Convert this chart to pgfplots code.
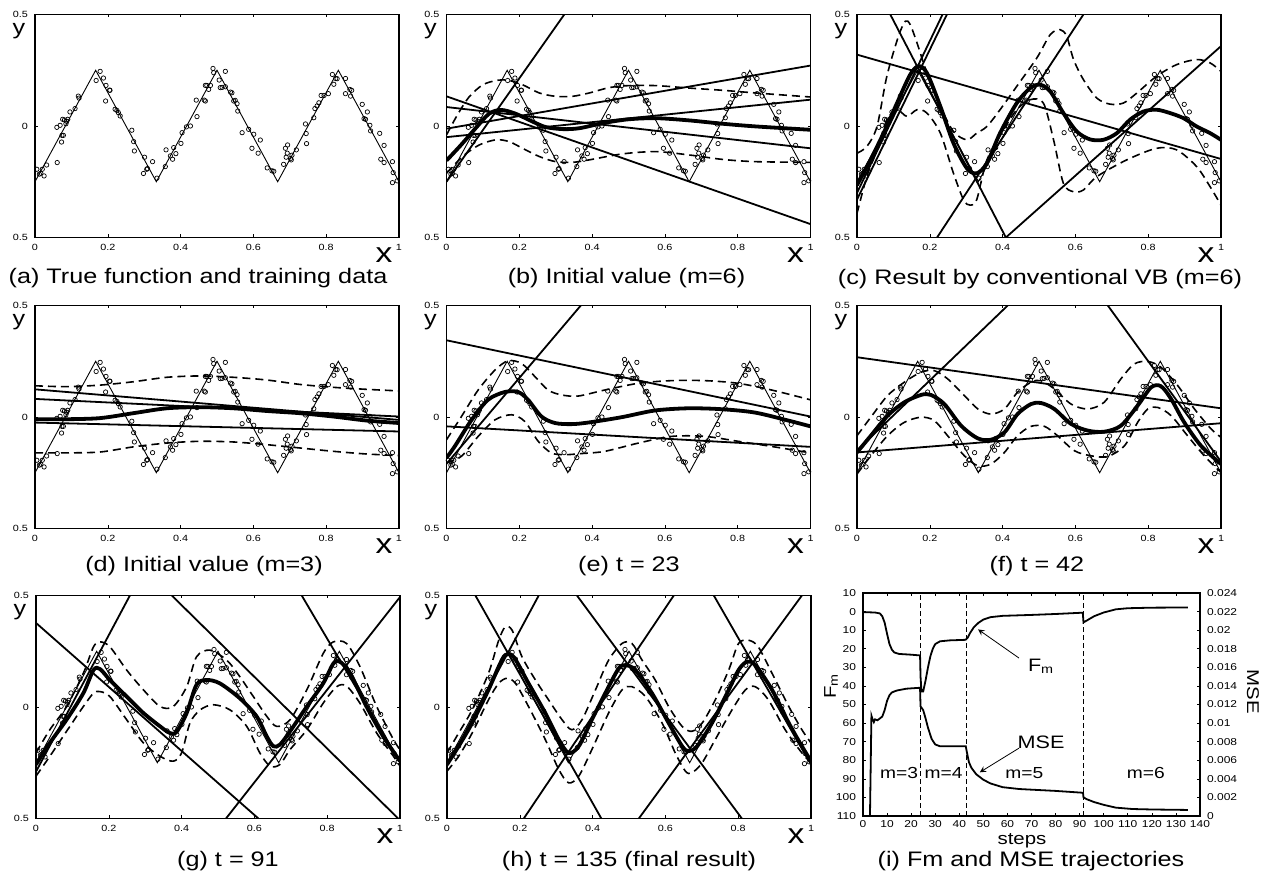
\documentclass[border=0pt]{standalone}
\usepackage{fontspec}
\setmainfont{Liberation Sans}[FakeStretch=1.2]
\usepackage{pgfplots}
\usepackage{pgfplotstable}
\pgfplotsset{compat=1.18}

% training data (same in every panel)
\pgfplotstableread{
x y
0.005 -0.194
0.012 -0.216
0.016 -0.212
0.020 -0.194
0.025 -0.224
0.032 -0.175
0.060 -0.006
0.061 -0.164
0.069 0.003
0.073 -0.072
0.074 -0.042
0.078 -0.042
0.076 0.030
0.081 0.027
0.085 0.010
0.087 0.021
0.090 0.030
0.096 0.063
0.110 0.078
0.119 0.134
0.121 0.125
0.168 0.204
0.179 0.245
0.188 0.215
0.195 0.182
0.194 0.112
0.205 0.161
0.206 0.160
0.220 0.075
0.225 0.070
0.229 0.060
0.234 0.045
0.266 -0.019
0.271 -0.070
0.273 -0.112
0.298 -0.213
0.301 -0.140
0.307 -0.194
0.309 -0.191
0.323 -0.160
0.335 -0.234
0.358 -0.182
0.360 -0.107
0.372 -0.134
0.378 -0.149
0.381 -0.097
0.387 -0.124
0.401 -0.078
0.404 -0.030
0.416 -0.004
0.427 0.000
0.443 0.116
0.445 0.042
0.465 0.116
0.468 0.112
0.468 0.182
0.472 0.182
0.477 0.164
0.482 0.182
0.489 0.258
0.491 0.239
0.506 0.206
0.509 0.172
0.514 0.173
0.523 0.176
0.523 0.245
0.537 0.152
0.541 0.149
0.546 0.112
0.550 0.115
0.555 0.100
0.557 0.067
0.569 -0.030
0.587 -0.015
0.596 -0.100
0.601 -0.037
0.613 -0.122
0.619 -0.063
0.638 -0.188
0.651 -0.201
0.656 -0.203
0.683 -0.172
0.688 -0.100
0.690 -0.140
0.693 -0.122
0.694 -0.085
0.702 -0.146
0.704 -0.152
0.706 -0.131
0.718 -0.107
0.743 0.009
0.745 -0.034
0.746 -0.079
0.766 0.037
0.769 0.078
0.775 0.090
0.780 0.104
0.786 0.137
0.794 0.137
0.806 0.145
0.817 0.231
0.821 0.187
0.826 0.213
0.830 0.212
0.853 0.213
0.853 0.145
0.865 0.164
0.867 0.134
0.870 0.160
0.899 0.097
0.904 0.033
0.908 0.030
0.913 0.063
0.920 0.003
0.922 -0.022
0.947 -0.033
0.959 -0.087
0.950 -0.149
0.959 -0.164
0.982 -0.160
0.982 -0.254
0.984 -0.209
0.995 -0.246
}\pts

\pgfplotsset{
  panel/.style={
    scale only axis, width=182pt, height=111.5pt, anchor=south west,
    xmin=0, xmax=1, ymin=-0.5, ymax=0.5,
    xtick={0,0.2,0.4,0.6,0.8,1}, xticklabels={0,0.2,0.4,0.6,0.8,1},
    ytick={-0.5,0,0.5}, yticklabels={0.5,0,0.5},
    tick align=inside, major tick length=1.5pt,
    tick style={black, line width=0.3pt},
    axis line style={line width=0.8pt},
    tick label style={font=\fontsize{4.5}{4.5}\selectfont},
    clip mode=individual,
  },
  tri/.style={black, line width=0.45pt},
  lin/.style={black, line width=0.9pt},
  mean/.style={black, line width=1.9pt, smooth},
  band/.style={black, line width=0.8pt, dash pattern=on 4pt off 2.5pt, smooth},
  dat/.style={only marks, mark=o, mark size=1.1pt, mark options={line width=0.35pt, black}},
}
\newcommand{\base}{%
  \addplot[tri] coordinates {(0,-0.25)(0.1667,0.25)(0.3333,-0.25)(0.5,0.25)(0.6667,-0.25)(0.8333,0.25)(1,-0.25)};
  \addplot[dat] table {\pts};
  \node[font=\fontsize{10.5}{10.5}\selectfont, inner sep=0pt, xshift=-8pt, yshift=-8.5pt] at (rel axis cs:0,1) {y};
  \node[font=\fontsize{14}{14}\selectfont, inner sep=0pt, xshift=-7.5pt, yshift=-9pt] at (rel axis cs:1,0) {x};
}

\begin{document}
\begin{tikzpicture}
\path[use as bounding box] (0,0) rectangle (633pt,438.5pt);

% (a)
\begin{axis}[panel, at={(17.5pt,319.75pt)}]
\base
\end{axis}

% (b)
\begin{axis}[panel, at={(223.25pt,319.75pt)}]
\base
\addplot[lin] coordinates {(0,0.133)(1,-0.44)};
\addplot[lin] coordinates {(0,0.085)(1,-0.1)};
\addplot[lin] coordinates {(0,-0.012)(1,0.271)};
\addplot[lin] coordinates {(0,-0.05)(1,0.118)};
\addplot[lin] coordinates {(0,-0.25)(0.3236,0.5)};
\addplot[band] coordinates {(0,-0.04)(0.03,0.05)(0.062,0.13)(0.1,0.185)(0.14,0.205)(0.17,0.205)(0.209,0.185)(0.255,0.148)(0.3,0.133)(0.346,0.133)(0.392,0.148)(0.447,0.172)(0.5,0.181)(0.576,0.181)(0.667,0.17)(0.759,0.16)(0.85,0.148)(1,0.13)};
\addplot[band] coordinates {(0,-0.212)(0.044,-0.137)(0.09,-0.085)(0.136,-0.062)(0.172,-0.07)(0.209,-0.1)(0.255,-0.137)(0.3,-0.16)(0.346,-0.163)(0.392,-0.152)(0.484,-0.125)(0.576,-0.115)(0.667,-0.13)(0.759,-0.15)(0.85,-0.16)(1,-0.163)};
\addplot[mean] coordinates {(0,-0.155)(0.04,-0.085)(0.08,-0.01)(0.117,0.055)(0.15,0.072)(0.19,0.055)(0.236,0.02)(0.273,-0.005)(0.32,-0.014)(0.365,-0.01)(0.43,0.013)(0.5,0.03)(0.576,0.035)(0.667,0.025)(0.759,0.01)(0.85,-0.002)(1,-0.017)};
\end{axis}

% (c)
\begin{axis}[panel, at={(428.5pt,319.75pt)}]
\base
\addplot[lin] coordinates {(0,0.32)(1,-0.148)};
\addplot[lin] coordinates {(0.0915,0.5)(0.409,-0.5)};
\addplot[lin] coordinates {(0.22,-0.5)(0.622,0.5)};
\addplot[lin] coordinates {(0.409,-0.5)(1,0.358)};
\addplot[lin] coordinates {(0,-0.30)(0.235,0.5)};
\addplot[lin] coordinates {(0,-0.33)(0.247,0.5)};
\addplot[band] coordinates {(0,-0.122)(0.027,-0.092)(0.055,-0.002)(0.082,0.223)(0.114,0.403)(0.133,0.47)(0.146,0.455)(0.165,0.372)(0.192,0.238)(0.229,0.088)(0.265,-0.025)(0.302,-0.062)(0.329,-0.032)(0.357,-0.002)(0.393,0.073)(0.439,0.178)(0.494,0.305)(0.531,0.41)(0.558,0.432)(0.576,0.403)(0.595,0.298)(0.622,0.208)(0.659,0.125)(0.695,0.098)(0.732,0.103)(0.769,0.148)(0.823,0.223)(0.878,0.275)(0.933,0.298)(0.97,0.283)(1,0.245)};
\addplot[band] coordinates {(0,-0.392)(0.027,-0.227)(0.055,-0.107)(0.082,0.028)(0.11,0.073)(0.137,0.043)(0.165,0.073)(0.192,0.058)(0.229,-0.032)(0.265,-0.212)(0.293,-0.332)(0.311,-0.355)(0.329,-0.33)(0.357,-0.152)(0.403,-0.017)(0.439,0.073)(0.476,0.118)(0.512,0.103)(0.54,-0.062)(0.567,-0.257)(0.595,-0.295)(0.622,-0.287)(0.659,-0.227)(0.741,-0.152)(0.823,-0.1)(0.878,-0.107)(0.933,-0.182)(0.97,-0.272)(1,-0.355)};
\addplot[mean] coordinates {(0,-0.265)(0.037,-0.152)(0.073,-0.032)(0.11,0.103)(0.146,0.23)(0.169,0.268)(0.192,0.238)(0.229,0.088)(0.265,-0.077)(0.302,-0.19)(0.329,-0.212)(0.357,-0.167)(0.393,-0.032)(0.439,0.103)(0.476,0.17)(0.503,0.185)(0.531,0.155)(0.567,0.058)(0.604,-0.025)(0.64,-0.06)(0.677,-0.062)(0.714,-0.032)(0.75,0.028)(0.787,0.065)(0.823,0.073)(0.86,0.058)(0.897,0.035)(0.933,-0.002)(0.97,-0.032)(1,-0.062)};
\end{axis}

% (d)
\begin{axis}[panel, at={(17.5pt,174.25pt)}]
\base
\addplot[lin] coordinates {(0,0.124)(1,-0.013)};
\addplot[lin] coordinates {(0,0.081)(1,0.002)};
\addplot[lin] coordinates {(0,-0.025)(1,-0.065)};
\addplot[band] coordinates {(0,0.14)(0.087,0.136)(0.179,0.143)(0.27,0.158)(0.362,0.178)(0.453,0.184)(0.545,0.178)(0.636,0.166)(0.728,0.146)(0.82,0.133)(0.911,0.124)(1,0.117)};
\addplot[band] coordinates {(0,-0.161)(0.087,-0.161)(0.179,-0.157)(0.27,-0.134)(0.362,-0.117)(0.453,-0.109)(0.545,-0.112)(0.636,-0.124)(0.728,-0.139)(0.82,-0.154)(0.911,-0.166)(1,-0.173)};
\addplot[mean] coordinates {(0,-0.01)(0.087,-0.01)(0.179,-0.005)(0.27,0.017)(0.362,0.039)(0.453,0.044)(0.545,0.039)(0.636,0.027)(0.728,0.017)(0.82,0.002)(0.911,-0.016)(1,-0.027)};
\end{axis}

% (e)
\begin{axis}[panel, at={(223.25pt,174.25pt)}]
\base
\addplot[lin] coordinates {(0,-0.21)(0.369,0.5)};
\addplot[lin] coordinates {(0,0.344)(1,0.002)};
\addplot[lin] coordinates {(0,-0.042)(1,-0.134)};
\addplot[band] coordinates {(0,-0.102)(0.041,0.002)(0.087,0.121)(0.133,0.21)(0.169,0.252)(0.206,0.24)(0.243,0.181)(0.279,0.121)(0.316,0.099)(0.362,0.094)(0.435,0.121)(0.527,0.151)(0.618,0.163)(0.71,0.163)(0.801,0.151)(0.893,0.121)(1,0.077)};
\addplot[band] coordinates {(0,-0.206)(0.041,-0.176)(0.087,-0.087)(0.133,-0.013)(0.179,0.01)(0.215,-0.02)(0.252,-0.109)(0.288,-0.161)(0.325,-0.169)(0.371,-0.164)(0.435,-0.154)(0.527,-0.117)(0.618,-0.087)(0.71,-0.087)(0.801,-0.109)(0.893,-0.132)(1,-0.161)};
\addplot[mean] coordinates {(0,-0.183)(0.023,-0.131)(0.069,-0.013)(0.114,0.077)(0.16,0.112)(0.197,0.112)(0.224,0.077)(0.261,0.002)(0.298,-0.027)(0.343,-0.032)(0.389,-0.025)(0.481,-0.001)(0.572,0.029)(0.664,0.039)(0.755,0.035)(0.847,0.02)(0.939,-0.016)(1,-0.042)};
\end{axis}

% (f)
\begin{axis}[panel, at={(428.5pt,174.25pt)}]
\base
\addplot[lin] coordinates {(0,-0.15)(0.414,0.5)};
\addplot[lin] coordinates {(0.689,0.5)(1,-0.2)};
\addplot[lin] coordinates {(0,0.268)(1,0.039)};
\addplot[lin] coordinates {(0,-0.159)(1,-0.028)};
\addplot[band] coordinates {(0,-0.084)(0.038,-0.001)(0.084,0.096)(0.13,0.156)(0.176,0.201)(0.212,0.208)(0.249,0.171)(0.295,0.096)(0.332,0.036)(0.368,0.013)(0.405,0.036)(0.441,0.111)(0.478,0.156)(0.505,0.163)(0.542,0.126)(0.588,0.058)(0.634,0.036)(0.679,0.066)(0.725,0.171)(0.762,0.238)(0.799,0.249)(0.835,0.223)(0.881,0.141)(0.927,0.036)(0.973,-0.054)(1,-0.091)};
\addplot[band] coordinates {(0,-0.256)(0.038,-0.174)(0.084,-0.084)(0.13,-0.024)(0.176,-0.001)(0.212,-0.016)(0.249,-0.084)(0.295,-0.174)(0.332,-0.219)(0.368,-0.211)(0.405,-0.159)(0.441,-0.084)(0.478,-0.042)(0.515,-0.042)(0.551,-0.084)(0.597,-0.151)(0.643,-0.174)(0.689,-0.177)(0.735,-0.129)(0.771,-0.024)(0.799,0.036)(0.826,0.043)(0.863,0.006)(0.908,-0.084)(0.954,-0.174)(1,-0.249)};
\addplot[mean] coordinates {(0,-0.159)(0.038,-0.084)(0.084,0.006)(0.13,0.066)(0.176,0.099)(0.203,0.099)(0.24,0.058)(0.286,-0.039)(0.332,-0.096)(0.368,-0.102)(0.405,-0.069)(0.441,0.013)(0.478,0.058)(0.505,0.063)(0.542,0.036)(0.588,-0.031)(0.634,-0.061)(0.679,-0.066)(0.725,-0.039)(0.771,0.051)(0.808,0.133)(0.835,0.138)(0.863,0.081)(0.899,-0.024)(0.945,-0.129)(1,-0.211)};
\end{axis}

% (g)
\begin{axis}[panel, at={(18pt,29.25pt)}]
\base
\addplot[lin] coordinates {(0,0.377)(0.611,-0.5)};
\addplot[lin] coordinates {(0.373,0.5)(0.995,-0.5)};
\addplot[lin] coordinates {(0,-0.29)(0.258,0.5)};
\addplot[lin] coordinates {(0.522,-0.5)(1,0.493)};
\addplot[lin] coordinates {(0.73,0.5)(1,-0.247)};
\addplot[band] coordinates {(0,-0.206)(0.038,-0.102)(0.084,0.002)(0.13,0.151)(0.158,0.27)(0.176,0.292)(0.203,0.27)(0.249,0.166)(0.295,0.077)(0.341,0.002)(0.377,0.002)(0.414,0.091)(0.441,0.225)(0.478,0.255)(0.524,0.21)(0.56,0.136)(0.597,0.047)(0.634,-0.042)(0.661,-0.087)(0.698,-0.057)(0.744,0.077)(0.789,0.24)(0.817,0.292)(0.853,0.285)(0.89,0.181)(0.936,0.002)(0.982,-0.146)(1,-0.191)};
\addplot[band] coordinates {(0,-0.31)(0.038,-0.221)(0.084,-0.109)(0.13,0.002)(0.158,0.062)(0.176,0.069)(0.203,0.047)(0.249,-0.057)(0.295,-0.161)(0.341,-0.221)(0.377,-0.243)(0.4,-0.206)(0.423,-0.072)(0.451,-0.013)(0.487,0.01)(0.533,-0.013)(0.579,-0.087)(0.615,-0.206)(0.643,-0.265)(0.67,-0.258)(0.698,-0.191)(0.744,-0.102)(0.789,0.017)(0.826,0.091)(0.853,0.094)(0.89,0.017)(0.936,-0.117)(0.982,-0.221)(1,-0.265)};
\addplot[mean] coordinates {(0,-0.258)(0.038,-0.161)(0.084,-0.057)(0.13,0.062)(0.158,0.166)(0.176,0.17)(0.203,0.121)(0.249,0.047)(0.295,-0.027)(0.341,-0.087)(0.368,-0.117)(0.386,-0.112)(0.414,-0.027)(0.441,0.1)(0.469,0.121)(0.505,0.106)(0.56,0.039)(0.606,-0.042)(0.634,-0.132)(0.652,-0.176)(0.67,-0.169)(0.698,-0.109)(0.744,0.002)(0.789,0.106)(0.817,0.195)(0.835,0.203)(0.863,0.151)(0.908,0.002)(0.954,-0.132)(1,-0.243)};
\end{axis}

% (h)
\begin{axis}[panel, at={(223.5pt,29.25pt)}]
\base
\addplot[lin] coordinates {(0.078,0.5)(0.424,-0.5)};
\addplot[lin] coordinates {(0,-0.265)(0.252,0.5)};
\addplot[lin] coordinates {(0.357,0.5)(0.81,-0.5)};
\addplot[lin] coordinates {(0.211,-0.5)(0.623,0.5)};
\addplot[lin] coordinates {(0.733,0.5)(1,-0.258)};
\addplot[lin] coordinates {(0.527,-0.5)(0.975,0.5)};
\addplot[band] coordinates {(0,-0.206)(0.032,-0.117)(0.069,-0.013)(0.114,0.151)(0.142,0.299)(0.16,0.359)(0.179,0.344)(0.206,0.225)(0.243,0.121)(0.279,0.032)(0.316,-0.057)(0.343,-0.102)(0.371,-0.057)(0.408,0.077)(0.444,0.21)(0.481,0.285)(0.508,0.285)(0.536,0.21)(0.572,0.121)(0.609,0.002)(0.646,-0.087)(0.673,-0.109)(0.701,-0.072)(0.737,0.032)(0.774,0.166)(0.801,0.285)(0.829,0.299)(0.855,0.27)(0.893,0.151)(0.939,0.002)(0.975,-0.102)(1,-0.161)};
\addplot[band] coordinates {(0,-0.288)(0.032,-0.221)(0.069,-0.117)(0.114,0.032)(0.142,0.106)(0.165,0.129)(0.188,0.106)(0.224,0.002)(0.27,-0.146)(0.307,-0.28)(0.334,-0.34)(0.362,-0.31)(0.398,-0.191)(0.444,-0.027)(0.481,0.077)(0.508,0.091)(0.545,0.047)(0.591,-0.072)(0.627,-0.206)(0.655,-0.288)(0.673,-0.295)(0.701,-0.25)(0.737,-0.146)(0.783,-0.013)(0.82,0.077)(0.847,0.091)(0.883,0.032)(0.929,-0.102)(0.975,-0.206)(1,-0.25)};
\addplot[mean] coordinates {(0,-0.258)(0.032,-0.176)(0.069,-0.072)(0.114,0.077)(0.142,0.181)(0.16,0.233)(0.183,0.225)(0.224,0.106)(0.27,-0.027)(0.307,-0.146)(0.334,-0.206)(0.362,-0.176)(0.398,-0.057)(0.444,0.091)(0.472,0.173)(0.49,0.188)(0.517,0.166)(0.563,0.062)(0.609,-0.072)(0.646,-0.176)(0.664,-0.198)(0.687,-0.176)(0.728,-0.072)(0.774,0.077)(0.801,0.166)(0.824,0.203)(0.847,0.188)(0.893,0.077)(0.939,-0.072)(0.975,-0.176)(1,-0.243)};
\end{axis}

% (i) left axis: F_m
\begin{axis}[
  scale only axis, width=168.5pt, height=111.5pt, anchor=south west,
  at={(431.5pt,30.5pt)},
  xmin=0, xmax=140, ymin=-110, ymax=10,
  xtick={0,10,...,140},
  ytick={-110,-100,...,10},
  yticklabels={110,100,90,80,70,60,50,40,30,20,10,0,10},
  ytick pos=left,
  tick align=inside, major tick length=1.5pt,
  tick style={black, line width=0.3pt},
  axis line style={line width=0.8pt},
  tick label style={font=\fontsize{5}{5}\selectfont},
  xticklabel style={yshift=1.5pt},
  /pgf/number format/assume math mode=true,
  clip mode=individual,
]
\addplot[black, line width=0.9pt] coordinates {(0,-0.3)(5,-0.5)(7,-1)(8,-2.5)(9,-6)(10,-12)(11,-17.5)(12,-20.5)(13,-22)(15,-22.8)(20,-23.2)(23.7,-23.6)(23.9,-35)(24.3,-43)(25,-43)(26,-37)(27,-30)(28,-24)(29,-20)(30,-17.5)(32,-16)(36,-15.5)(42.6,-15.2)(43.5,-14)(44.5,-11.5)(46,-8.5)(48,-6)(50,-4.3)(53,-3)(58,-2.3)(70,-1.8)(80,-1.3)(91.3,-0.6)(91.6,-5.8)(93,-4.8)(96,-2.5)(100,-0.5)(105,1.2)(110,1.8)(120,2.1)(135,2.2)};
\addplot[black, line width=0.5pt, dash pattern=on 2.5pt off 1.5pt] coordinates {(23.8,-110)(23.8,10)};
\addplot[black, line width=0.5pt, dash pattern=on 2.5pt off 1.5pt] coordinates {(42.8,-110)(42.8,10)};
\addplot[black, line width=0.5pt, dash pattern=on 2.5pt off 1.5pt] coordinates {(91.5,-110)(91.5,10)};
\draw[->, >=stealth, line width=0.4pt] (axis cs:64.8,-25) -- (axis cs:47.8,-9.6);
\node[font=\fontsize{9}{9}\selectfont] at (axis cs:74,-29.5) {F\textsubscript{m}};
\end{axis}

% (i) right axis: MSE
\begin{axis}[
  scale only axis, width=168.5pt, height=111.5pt, anchor=south west,
  at={(431.5pt,30.5pt)},
  xmin=0, xmax=140, ymin=0, ymax=0.024,
  axis x line=none, axis y line*=right,
  ytick={0,0.002,...,0.024}, scaled y ticks=false,
  yticklabels={0,0.002,0.004,0.006,0.008,0.01,0.012,0.014,0.016,0.018,0.02,0.022,0.024},
  tick align=inside, major tick length=1.5pt,
  tick style={black, line width=0.3pt},
  axis line style={line width=0.8pt},
  tick label style={font=\fontsize{5}{5}\selectfont},
  clip mode=individual,
]
\addplot[black, line width=0.9pt] coordinates {(2.9,0)(3.5,0.0108)(4,0.0104)(4.5,0.0101)(5,0.0104)(6,0.0103)(7,0.0105)(8,0.0107)(9,0.0114)(10,0.0124)(11,0.0130)(12,0.0133)(14,0.0135)(18,0.0137)(23.7,0.0138)(23.9,0.0118)(25,0.0114)(26,0.0105)(27,0.0095)(28.5,0.0083)(30,0.0077)(32,0.0075)(42.7,0.0075)(43.2,0.0068)(44,0.0058)(45,0.0052)(47,0.0045)(50,0.0039)(53,0.0035)(58,0.0031)(65,0.0029)(80,0.0027)(91.4,0.0025)(91.6,0.0020)(93,0.0018)(96,0.0015)(100,0.0012)(105,0.0009)(112,0.00075)(120,0.0007)(135,0.00065)};
\draw[->, >=stealth, line width=0.4pt] (axis cs:64.8,0.0073) -- (axis cs:48.5,0.0047);
\node[font=\fontsize{9}{9}\selectfont] at (axis cs:74,0.0079) {MSE};
\node[font=\fontsize{8}{8}\selectfont] at (axis cs:15,0.0046) {m=3};
\node[font=\fontsize{8}{8}\selectfont] at (axis cs:33.5,0.0046) {m=4};
\node[font=\fontsize{8}{8}\selectfont] at (axis cs:67,0.0046) {m=5};
\node[font=\fontsize{8}{8}\selectfont] at (axis cs:117.5,0.0046) {m=6};
\end{axis}

\node[font=\fontsize{8.5}{8.5}\selectfont] at (511pt,18pt) {steps};
\node[font=\fontsize{8.5}{8.5}\selectfont, rotate=90] at (415.5pt,95.5pt) {F\textsubscript{m}};
\node[font=\fontsize{8.5}{8.5}\selectfont, rotate=-90] at (626.5pt,92.5pt) {MSE};

% captions
\begin{scope}[every node/.style={font=\fontsize{10.5}{10.5}\selectfont, anchor=base}]
\node at (99pt,296.5pt) {(a) True function and training data};
\node at (313.25pt,296.5pt) {(b) Initial value (m=6)};
\node at (520pt,296pt) {(c) Result by conventional VB (m=6)};
\node at (102pt,152.5pt) {(d) Initial value (m=3)};
\node at (314.5pt,152.5pt) {(e) t = 23};
\node at (518.5pt,152.5pt) {(f) t = 42};
\node at (114pt,5pt) {(g) t = 91};
\node at (314.5pt,5pt) {(h) t = 135 (final result)};
\node at (515.5pt,5pt) {(i) Fm and MSE trajectories};
\end{scope}
\end{tikzpicture}
\end{document}
